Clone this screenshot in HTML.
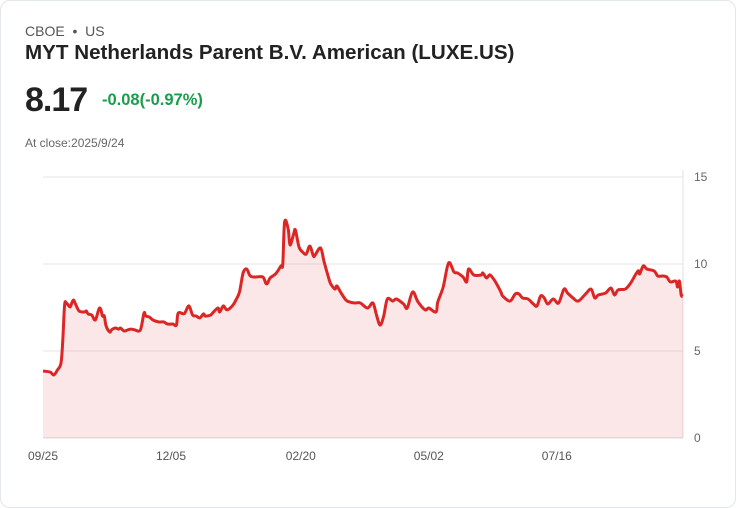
<!DOCTYPE html>
<html><head><meta charset="utf-8"><style>
body{margin:0;width:736px;height:508px;background:#fff;font-family:"Liberation Sans",sans-serif;overflow:hidden}
.card{position:absolute;left:0;top:0;width:734px;height:506px;border:1px solid #e3e6ea;border-radius:10px}
.t{position:absolute;white-space:nowrap}
</style></head><body>
<div class="card"></div>
<div class="t" style="left:25px;top:23px;font-size:14px;color:#555">CBOE &nbsp;•&nbsp; US</div>
<div class="t" style="left:25px;top:41px;font-size:20.6px;font-weight:bold;color:#222">MYT Netherlands Parent B.V. American (LUXE.US)</div>
<div class="t" style="left:25px;top:81px;font-size:34px;font-weight:bold;color:#222;letter-spacing:-1px">8.17</div>
<div class="t" style="left:102px;top:91px;font-size:16.5px;font-weight:bold;color:#1a9d4a">-0.08(-0.97%)</div>
<div class="t" style="left:25px;top:136px;font-size:12px;color:#666">At close:2025/9/24</div>
<svg id="chart" style="position:absolute;left:0;top:0" width="736" height="508"></svg>
<script>
const days=[0,4,6,8,10,11,12,13,15,16,17,18,20,23,24,25,27,29,31,32,33,34,35,37,38,40,42,43,45,47,49,51,54,56,57,59,61,64,67,69,72,74,75,78,79,81,83,85,87,89,90,93,94,97,98,100,102,105,107,109,111,113,115,118,122,124,126,129,132,133,134,136,137,139,140,142,144,146,148,150,151,154,156,159,160,162,163,165,168,170,173,176,180,183,185,187,189,191,194,196,200,202,205,208,212,214,218,219,222,225,228,230,233,235,236,239,243,244,246,248,251,254,255,259,262,264,266,269,272,274,276,278,280,283,286,289,291,294,297,301,304,306,308,312,315,317,319,323,326,330,331,333,335,339,341,344,346,348,351,352,353,354,355];
const prices=[3.85,3.79,3.62,3.91,4.31,5.63,7.64,7.76,7.53,7.76,7.93,7.70,7.30,7.24,7.30,7.13,7.07,6.78,7.41,7.41,7.01,7.01,6.44,6.09,6.21,6.32,6.26,6.32,6.15,6.21,6.26,6.21,6.21,7.18,7.01,6.95,6.78,6.67,6.67,6.55,6.55,6.49,7.18,7.13,7.24,7.59,7.07,7.01,6.90,7.13,7.01,7.07,7.18,7.47,7.24,7.59,7.36,7.59,7.93,8.39,9.48,9.71,9.31,9.25,9.25,8.85,9.20,9.43,9.89,10.0,12.41,12.01,11.09,11.72,11.95,10.98,10.69,10.57,11.03,10.46,10.52,10.92,10.11,9.02,8.79,8.56,8.74,8.39,7.93,7.82,7.76,7.76,7.47,7.76,7.07,6.49,7.01,7.99,7.87,7.99,7.70,7.47,8.39,7.82,7.36,7.47,7.24,7.82,8.68,10.06,9.54,9.48,9.25,8.97,9.71,9.37,9.37,9.48,9.20,9.37,8.97,8.39,8.16,7.87,8.28,8.28,8.05,7.99,7.70,7.59,8.16,8.05,7.70,7.99,7.76,8.56,8.33,8.05,7.87,8.28,8.56,8.05,8.22,8.33,8.62,8.22,8.51,8.56,8.91,9.60,9.43,9.89,9.71,9.60,9.31,9.31,9.25,8.97,9.02,8.68,9.02,8.22,8.16,8.16];
const yTicks=[0,5,10,15];
const xLabels=["09/25","12/05","02/20","05/02","07/16"];
const xLabelDays=[0,71,143,214,285];
const L=43,R=683,T=177,B=438,maxDay=355,yMax=15;
const sx=d=>L+d/maxDay*(R-L), sy=v=>B-v/yMax*(B-T);
const svg=document.getElementById('chart'),NS='http://www.w3.org/2000/svg';
function mk(tag,a){const e=document.createElementNS(NS,tag);for(const k in a)e.setAttribute(k,a[k]);svg.appendChild(e);return e;}
yTicks.forEach(v=>{
 const g=mk('line',{x1:L,x2:R,y1:sy(v),y2:sy(v),stroke:v===0?'#d8d8d8':'#e6e6e6','stroke-width':1});
 
 
 const t=mk('text',{x:R+11,y:sy(v)+4,'font-size':12,fill:'#666','font-family':'Liberation Sans, sans-serif'});
 t.textContent=v;
 
 
});
const ax=mk('line',{x1:R,x2:R,y1:170,y2:B,stroke:'#e0e0e0'});


xLabels.forEach((s,i)=>{
 const t=mk('text',{x:sx(xLabelDays[i]),y:460,'font-size':12,fill:'#555','text-anchor':'middle','font-family':'Liberation Sans, sans-serif'});
 t.textContent=s;
 
 
});
const pts=days.map((dd,i)=>[sx(dd),sy(prices[i])]);
let d='M'+pts[0][0].toFixed(1)+' '+pts[0][1].toFixed(1);
for(let i=0;i<pts.length-1;i++){
 const p0=pts[Math.max(0,i-1)],p1=pts[i],p2=pts[i+1],p3=pts[Math.min(pts.length-1,i+2)];
 const k=0.5/3;
 const c1=[p1[0]+(p2[0]-p0[0])*k,p1[1]+(p2[1]-p0[1])*k];
 const c2=[p2[0]-(p3[0]-p1[0])*k,p2[1]-(p3[1]-p1[1])*k];
 d+=`C${c1[0].toFixed(1)} ${c1[1].toFixed(1)} ${c2[0].toFixed(1)} ${c2[1].toFixed(1)} ${p2[0].toFixed(1)} ${p2[1].toFixed(1)}`;
}
const area=mk('path',{d:d+`L${sx(days[days.length-1])} ${B}L${sx(0)} ${B}Z`,fill:'rgba(220,40,40,0.11)'});


const line=mk('path',{d:d,fill:'none',stroke:'#dc2626','stroke-width':3,'stroke-linejoin':'round'});


</script>
</body></html>
